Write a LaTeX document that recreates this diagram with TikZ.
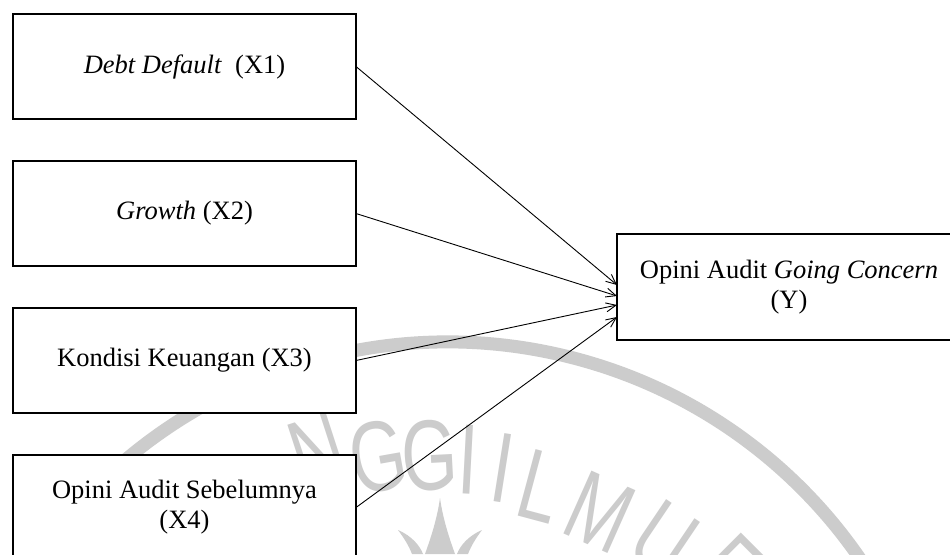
\documentclass[tikz,border=0pt]{standalone}
\usepackage{fontspec}
\setmainfont{Liberation Serif}
\newfontfamily\wmfont[FakeStretch=0.72]{Liberation Sans}
\usetikzlibrary{arrows.meta}
\begin{document}
\begin{tikzpicture}[x=1pt,y=-1pt,
  box/.style={draw, line width=2pt, fill=white, minimum width=343pt, minimum height=105pt,
    inner sep=0pt, outer sep=0pt, align=center, font=\fontsize{26.5}{30}\selectfont},
  arr/.style={line width=0.9pt, -{Straight Barb[length=10pt,width=9pt]}},
  wmline/.style={black!20, line width=13pt},
  wmletter/.style={text=black!20, font=\wmfont\fontsize{100}{100}\selectfont, inner sep=0pt}]
\clip (0,0) rectangle (950,554);
\fill[white] (0,0) rectangle (950,554);
% watermark
\coordinate (wc) at (448,842);
\draw[wmline] (wc) ++(-165:500) arc[start angle=-165, end angle=-15, radius=500];
\node[wmletter, rotate=18]  (w1) at (318,452) {N};
\node[wmletter, rotate=10]  (w2) at (378,457) {G};
\node[wmletter, rotate=3]   (w3) at (430,456) {G};
\node[wmletter, rotate=-3]  (w4) at (468,460) {I};
\node[wmletter, rotate=-9]  (w5) at (503,468) {I};
\node[wmletter, rotate=-15] (w6) at (541,486) {L};
\node[wmletter, rotate=-24] (w7) at (600,512) {M};
\node[wmletter, rotate=-34] (w8) at (664,540) {U};
\node[wmletter, rotate=-45] (w9) at (730,570) {E};
\fill[black!20] (440,498) .. controls (437,520) and (430,540) .. (425,554) -- (455,554) .. controls (450,540) and (443,520) .. (440,498);
\fill[black!20] (398,530) .. controls (412,536) and (420,546) .. (423,554) -- (412,554) .. controls (409,546) and (404,538) .. (398,530);
\fill[black!20] (482,530) .. controls (468,536) and (460,546) .. (457,554) -- (468,554) .. controls (471,546) and (476,538) .. (482,530);
% diagram
\node[box] (x1) at (184.5,66.5) {\textit{Debt Default}\ \ (X1)};
\node[box] (x2) at (184.5,213.5) {\textit{Growth} (X2)};
\node[box] (x3) at (184.5,360.5) {Kondisi Keuangan (X3)};
\node[box] (x4) at (184.5,507.5) {Opini Audit Sebelumnya\\(X4)};
\node[box, minimum width=344pt, minimum height=106pt] (yy) at (789,287) {Opini Audit \textit{Going Concern}\\(Y)};
\draw[arr] (x1.east) -- ([yshift=2pt]yy.west);
\draw[arr] (x2.east) -- ([yshift=-9pt]yy.west);
\draw[arr] (x3.east) -- ([yshift=-18pt]yy.west);
\draw[arr] (x4.east) -- ([yshift=-30pt]yy.west);
\end{tikzpicture}
\end{document}
